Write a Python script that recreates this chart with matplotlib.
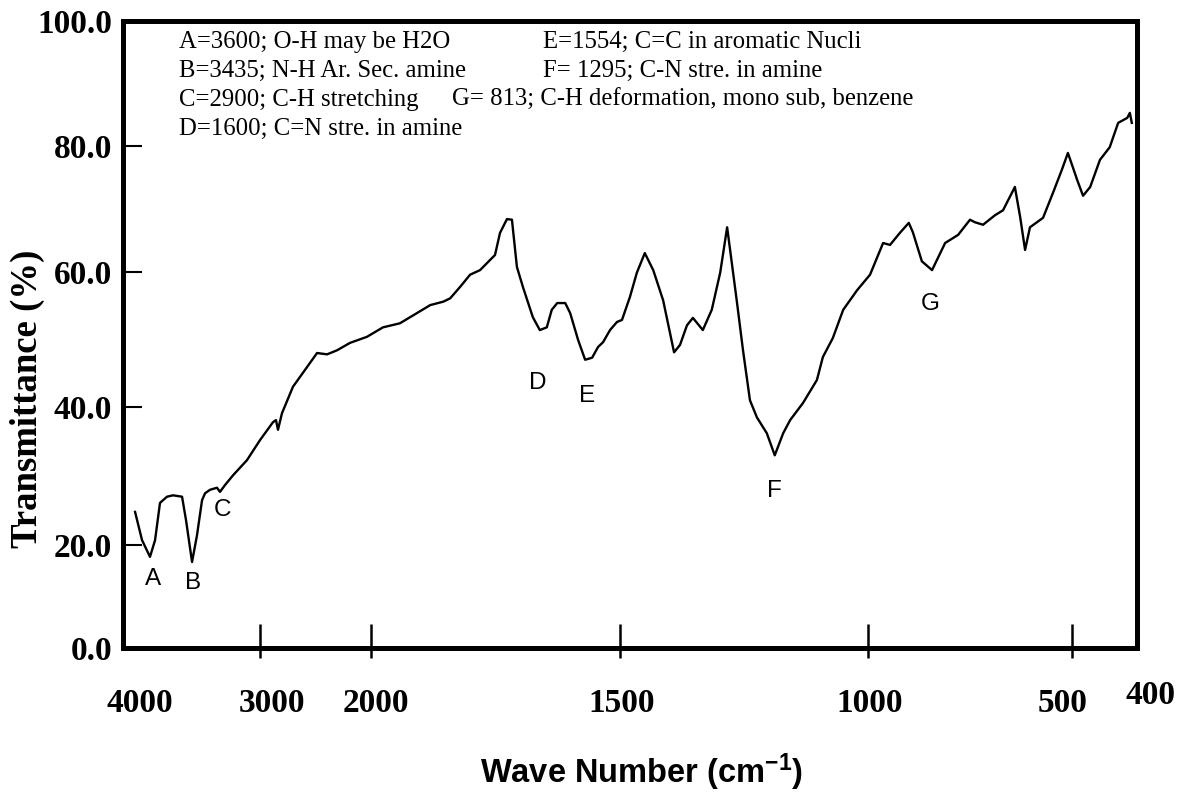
import matplotlib
matplotlib.use("Agg")
import matplotlib.pyplot as plt
import numpy as np

# FTIR trace (wavenumber in cm-1, transmittance in %)
WAVENUMBER = [
    3912, 3861, 3803, 3766, 3730, 3679, 3635, 3569, 3540, 3496,
    3460, 3423, 3401, 3365, 3314, 3292, 3255, 3197, 3095, 3000,
    2883, 2856, 2838, 2802, 2703, 2577, 2486, 2396, 2306, 2189,
    2036, 1976, 1942, 1908, 1881, 1855, 1841, 1821, 1801, 1781,
    1761, 1751, 1741, 1727, 1717, 1707, 1695, 1675, 1661, 1647,
    1637, 1626, 1610, 1600, 1584, 1570, 1556, 1544, 1534, 1520,
    1506, 1496, 1480, 1466, 1450, 1433, 1413, 1391, 1379, 1365,
    1353, 1333, 1315, 1298, 1284, 1278, 1264, 1252, 1238, 1224,
    1204, 1188, 1171, 1157, 1131, 1103, 1091, 1071, 1050, 1022,
    995, 963, 946, 922, 900, 890, 868, 843, 811, 779,
    750, 738, 718, 689, 669, 640, 627, 615, 603, 571,
    547, 525, 510, 492, 483, 472, 457, 442, 429, 415,
    411, 408,
]
TRANSMITTANCE = [
    24.8, 20.7, 17.7, 20.7, 26.1, 27.0, 27.2, 27.0, 23.6, 16.7,
    21.4, 26.5, 27.5, 28.0, 28.3, 27.7, 28.7, 30.1, 32.3, 35.2,
    37.8, 38.1, 36.7, 39.1, 43.0, 45.9, 48.0, 47.8, 48.4, 49.5,
    50.4, 51.8, 52.4, 53.9, 55.1, 55.6, 56.1, 57.8, 59.6, 60.3,
    61.9, 62.7, 66.2, 68.4, 68.3, 60.8, 57.8, 53.3, 51.4, 51.8,
    54.4, 55.4, 55.4, 53.9, 49.9, 47.0, 47.3, 48.9, 49.6, 51.4,
    52.6, 52.9, 56.3, 59.9, 63.0, 60.3, 55.8, 48.1, 49.2, 52.1,
    53.2, 51.4, 54.4, 59.9, 67.1, 63.5, 55.4, 48.4, 41.0, 38.5,
    36.2, 33.0, 36.2, 38.1, 40.6, 44.0, 47.4, 50.2, 54.4, 57.3,
    59.6, 64.6, 64.3, 66.2, 67.8, 66.3, 61.7, 60.3, 64.6, 65.9,
    68.3, 67.9, 67.5, 69.0, 69.8, 73.5, 68.7, 63.5, 67.1, 68.6,
    72.5, 76.2, 78.9, 74.6, 72.1, 73.5, 77.8, 79.8, 83.7, 84.5,
    85.3, 83.7,
]

# band letters and where they sit on the chart
PEAK_NAMES = ["A", "B", "C", "D", "E", "F", "G"]
PEAK_WN = [3781, 3489, 3277, 1665, 1566, 1188, 848]
PEAK_T = [13.4, 12.6, 25.1, 43.5, 41.6, 27.8, 55.2]

NOTES_LEFT = [
    "A=3600; O-H may be H2O",
    "B=3435; N-H Ar. Sec. amine",
    "C=2900; C-H stretching",
    "D=1600; C=N stre. in amine",
]
NOTES_RIGHT = [
    "E=1554; C=C in aromatic Nucli",
    "F= 1295; C-N stre. in amine",
]
NOTE_G = "G= 813; C-H deformation, mono sub, benzene"

X_TICKS = [3000, 2000, 1500, 1000, 500]
X_LABELS = [4000, 3000, 2000, 1500, 1000, 500, 400]
Y_TICKS = [0, 20, 40, 60, 80, 100]

# the printed axes are not linear: breakpoints of the drawn scale
X_BREAK_WN = [400, 500, 1000, 1500, 2000, 3000, 4000]
X_BREAK_POS = [0, 65, 269, 517, 766, 877, 1014]
Y_BREAK_T = [0, 20, 40, 60, 80, 100]
Y_BREAK_POS = [0, 103, 241, 376, 502, 627]

# label nudges in pixels (dx, dy) relative to the tick
X_LABEL_NUDGE = [(17, 0), (12, 0), (5, 0), (2, 0), (2, 0), (-9, 0), (13, 9)]


def _piecewise(src, dst):
    def f(v):
        return np.interp(v, src, dst)
    return f


plt.rcParams["mathtext.fontset"] = "custom"
plt.rcParams["mathtext.rm"] = "Liberation Sans:bold"
plt.rcParams["mathtext.default"] = "rm"

fig = plt.figure(figsize=(11.92, 8.11), dpi=100)
ax = fig.add_axes([123 / 1192, 163 / 811, 1014 / 1192, 627 / 811])

ax.set_xscale("function", functions=(_piecewise(X_BREAK_WN, X_BREAK_POS),
                                     _piecewise(X_BREAK_POS, X_BREAK_WN)))
ax.set_yscale("function", functions=(_piecewise(Y_BREAK_T, Y_BREAK_POS),
                                     _piecewise(Y_BREAK_POS, Y_BREAK_T)))

ax.plot(WAVENUMBER, TRANSMITTANCE, color="black", lw=1.7)
ax.set_xlim(4000, 400)
ax.set_ylim(0, 100)

for sp in ax.spines.values():
    sp.set_linewidth(3.6)

ax.set_yticks(Y_TICKS)
ax.set_yticklabels([f"{v:.1f}" for v in Y_TICKS])
ax.tick_params(axis="y", direction="in", length=14, width=1.5, pad=8,
               labelsize=24)
for lab in ax.get_yticklabels():
    lab.set_fontfamily("Liberation Serif")
    lab.set_fontweight("bold")

ax.xaxis.remove_overlapping_locs = False
ax.set_xticks(X_TICKS)
ax.set_xticks(X_TICKS, minor=True)
ax.tick_params(axis="x", which="major", direction="in", length=17, width=1.8,
               labelbottom=False)
ax.tick_params(axis="x", which="minor", direction="out", length=7, width=1.8,
               labelbottom=False)

for wn, (dx, dy) in zip(X_LABELS, X_LABEL_NUDGE):
    ax.annotate(str(wn), xy=(wn, 0), xycoords=("data", "axes fraction"),
                xytext=(dx, -56 + dy), textcoords="offset pixels",
                ha="center", va="center", fontsize=24,
                family="Liberation Serif", weight="bold")

for name, wn, t in zip(PEAK_NAMES, PEAK_WN, PEAK_T):
    ax.text(wn, t, name, ha="center", va="center", fontsize=17.5,
            family="Liberation Sans")

note_kw = dict(transform=ax.transAxes, va="center", ha="left", fontsize=17.8,
               family="Liberation Serif")
rows_y = [0.9665, 0.920, 0.874, 0.8278]
for txt, yy in zip(NOTES_LEFT, rows_y):
    ax.text(0.0552, yy, txt, **note_kw)
for txt, yy in zip(NOTES_RIGHT, rows_y):
    ax.text(0.4142, yy, txt, **note_kw)
ax.text(0.3245, rows_y[2], NOTE_G, **note_kw)

fig.text(27 / 1192, 412 / 811, "Transmittance (%)", rotation=90,
         ha="center", va="center", fontsize=26.5, family="Liberation Serif",
         weight="bold")
fig.text(642 / 1192, 39 / 811, "Wave Number (cm$^{-1}$)", ha="center",
         va="center", fontsize=23.5, family="Liberation Sans", weight="bold")

fig.savefig("out.png", dpi=100)
